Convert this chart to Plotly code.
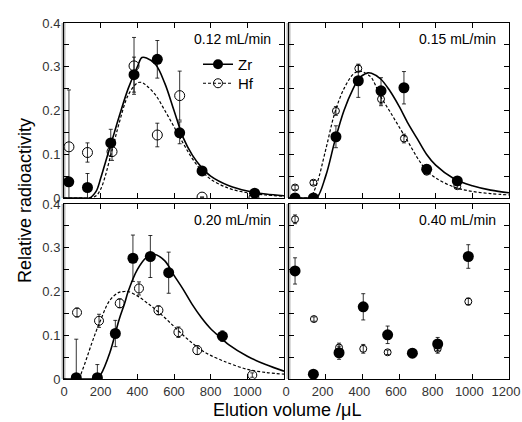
import plotly.graph_objects as go

# ---------------- data ----------------
flow_labels = ["0.12 mL/min", "0.15 mL/min", "0.20 mL/min", "0.40 mL/min"]

# 0.12 mL/min
p1_zr_x = [26, 128, 255, 382, 509, 631, 753, 1040]
p1_zr_y = [0.037, 0.024, 0.126, 0.282, 0.317, 0.149, 0.062, 0.011]
p1_zr_e = [0.0, 0.032, 0.031, 0.04, 0.043, 0.025, 0.01, 0.004]
p1_hf_x = [27, 128, 262, 382, 509, 631, 753, 1036]
p1_hf_y = [0.117, 0.104, 0.106, 0.302, 0.144, 0.234, 0.002, 0.0]
p1_hf_e = [0.13, 0.022, 0.02, 0.065, 0.027, 0.056, 0.0, 0.0]
p1_fit_x = [0, 100, 140, 175, 200, 225, 250, 275, 300, 350, 400, 425, 450, 500, 550, 600, 650, 700, 750, 800, 900, 1000, 1100, 1200]
p1_fit_zr = [0, 0, 0, 0.015, 0.045, 0.08, 0.115, 0.15, 0.185, 0.25, 0.30, 0.321, 0.32, 0.305, 0.262, 0.2, 0.138, 0.098, 0.07, 0.05, 0.028, 0.016, 0.009, 0.005]
p1_fit_hf = [0, 0, 0, 0.005, 0.02, 0.05, 0.09, 0.13, 0.17, 0.235, 0.263, 0.264, 0.257, 0.235, 0.2, 0.163, 0.125, 0.09, 0.063, 0.043, 0.022, 0.012, 0.007, 0.004]

# 0.15 mL/min
p2_zr_x = [33, 133, 256, 378, 502, 627, 751, 918]
p2_zr_y = [0.0, 0.0, 0.14, 0.268, 0.245, 0.252, 0.066, 0.039]
p2_zr_e = [0.0, 0.0, 0.025, 0.038, 0.03, 0.037, 0.01, 0.008]
p2_hf_x = [33, 133, 256, 378, 502, 627, 751, 918]
p2_hf_y = [0.024, 0.035, 0.199, 0.296, 0.226, 0.136, 0.06, 0.027]
p2_hf_e = [0.005, 0.005, 0.01, 0.008, 0.015, 0.01, 0.005, 0.005]
p2_fit_x = [0, 100, 115, 150, 200, 250, 300, 350, 380, 400, 430, 450, 500, 550, 600, 650, 700, 750, 800, 900, 1000, 1100, 1200]
p2_fit_zr = [0, 0, 0, 0, 0.05, 0.13, 0.2, 0.25, 0.272, 0.28, 0.286, 0.285, 0.272, 0.245, 0.21, 0.17, 0.135, 0.1, 0.075, 0.044, 0.028, 0.018, 0.012]
p2_fit_hf = [0, 0, 0, 0.03, 0.11, 0.195, 0.25, 0.283, 0.29, 0.289, 0.282, 0.275, 0.232, 0.198, 0.163, 0.128, 0.092, 0.063, 0.046, 0.025, 0.015, 0.01, 0.007]

# 0.20 mL/min
p3_zr_x = [67, 182, 280, 376, 471, 571, 864]
p3_zr_y = [0.003, 0.003, 0.104, 0.276, 0.28, 0.243, 0.098]
p3_zr_e = [0.088, 0.03, 0.03, 0.053, 0.048, 0.047, 0.012]
p3_hf_x = [71, 191, 304, 409, 515, 624, 727, 1027]
p3_hf_y = [0.152, 0.133, 0.173, 0.207, 0.157, 0.107, 0.066, 0.009]
p3_hf_e = [0.01, 0.015, 0.01, 0.015, 0.01, 0.012, 0.01, 0.005]
p3_fit_x = [0, 77, 100, 150, 176, 200, 250, 300, 330, 350, 400, 450, 490, 550, 600, 650, 700, 750, 800, 864, 900, 1000, 1100, 1200]
p3_fit_zr = [0, 0, 0, 0, 0, 0.01, 0.06, 0.135, 0.172, 0.2, 0.25, 0.278, 0.285, 0.27, 0.237, 0.205, 0.17, 0.14, 0.115, 0.091, 0.078, 0.052, 0.033, 0.018]
p3_fit_hf = [0, 0, 0.02, 0.08, 0.11, 0.135, 0.18, 0.198, 0.2, 0.2, 0.19, 0.175, 0.162, 0.14, 0.12, 0.1, 0.082, 0.066, 0.054, 0.042, 0.036, 0.022, 0.015, 0.011]

# 0.40 mL/min
p4_zr_x = [33, 133, 273, 405, 538, 673, 811, 978]
p4_zr_y = [0.247, 0.011, 0.06, 0.165, 0.101, 0.059, 0.08, 0.28]
p4_zr_e = [0.03, 0.0, 0.015, 0.03, 0.02, 0.01, 0.015, 0.027]
p4_hf_x = [33, 136, 273, 405, 538, 673, 811, 978]
p4_hf_y = [0.365, 0.137, 0.072, 0.069, 0.061, 0.061, 0.069, 0.177]
p4_hf_e = [0.01, 0.005, 0.01, 0.01, 0.005, 0.005, 0.01, 0.008]

x_ticks = [0, 200, 400, 600, 800, 1000, 1200]
y_ticks = [0, 0.1, 0.2, 0.3, 0.4]

# ---------------- figure ----------------
FONT = "Liberation Sans, Arial, sans-serif"
fig = go.Figure()

panels = [
    dict(zx=p1_zr_x, zy=p1_zr_y, ze=p1_zr_e, hx=p1_hf_x, hy=p1_hf_y, he=p1_hf_e,
         fx=p1_fit_x, fz=p1_fit_zr, fh=p1_fit_hf, hs=10, ax="x", ay="y"),
    dict(zx=p2_zr_x, zy=p2_zr_y, ze=p2_zr_e, hx=p2_hf_x, hy=p2_hf_y, he=p2_hf_e,
         fx=p2_fit_x, fz=p2_fit_zr, fh=p2_fit_hf, hs=7, ax="x2", ay="y2"),
    dict(zx=p3_zr_x, zy=p3_zr_y, ze=p3_zr_e, hx=p3_hf_x, hy=p3_hf_y, he=p3_hf_e,
         fx=p3_fit_x, fz=p3_fit_zr, fh=p3_fit_hf, hs=9, ax="x3", ay="y3"),
    dict(zx=p4_zr_x, zy=p4_zr_y, ze=p4_zr_e, hx=p4_hf_x, hy=p4_hf_y, he=p4_hf_e,
         fx=None, fz=None, fh=None, hs=7, ax="x4", ay="y4"),
]

for p in panels:
    if p["fx"] is not None:
        fig.add_trace(go.Scatter(x=p["fx"], y=p["fz"], mode="lines", line_shape="spline",
                                 line=dict(color="black", width=1.6), showlegend=False,
                                 xaxis=p["ax"], yaxis=p["ay"]))
        fig.add_trace(go.Scatter(x=p["fx"], y=p["fh"], mode="lines", line_shape="spline",
                                 line=dict(color="black", width=1.2, dash="3px,2px"), showlegend=False,
                                 xaxis=p["ax"], yaxis=p["ay"]))
    fig.add_trace(go.Scatter(x=p["hx"], y=p["hy"], mode="markers",
                             marker=dict(symbol="circle-open", size=p["hs"], color="black",
                                         line=dict(width=1, color="black")),
                             error_y=dict(type="data", array=p["he"], color="black", thickness=0.8, width=2),
                             showlegend=False, xaxis=p["ax"], yaxis=p["ay"]))
    fig.add_trace(go.Scatter(x=p["zx"], y=p["zy"], mode="markers",
                             marker=dict(symbol="circle", size=11, color="black"),
                             error_y=dict(type="data", array=p["ze"], color="black", thickness=0.8, width=2),
                             showlegend=False, xaxis=p["ax"], yaxis=p["ay"]))

# legend entries (one legend box each, to control spacing)
fig.add_trace(go.Scatter(x=[None], y=[None], mode="lines+markers", name="Zr", legend="legend",
                         marker=dict(symbol="circle", size=10, color="black"),
                         line=dict(color="black", width=1.5), xaxis="x", yaxis="y"))
fig.add_trace(go.Scatter(x=[None], y=[None], mode="lines+markers", name="Hf", legend="legend2",
                         marker=dict(symbol="circle-open", size=9, color="black"),
                         line=dict(color="black", width=1.2, dash="3px,2px"), xaxis="x", yaxis="y"))

W, H = 522, 422
L, R, T, B = 64, 13, 23, 43
pw, ph = W - L - R, H - T - B
xl = [0, (284 - L) / pw]
xr = [(289 - L) / pw, 1]
yt = [(379 - 198) / ph, 1]
yb = [0, (379 - 204) / ph]

def xaxis(dom, anchor, labels, shift=0):
    return dict(domain=dom, anchor=anchor, range=[0, 1200], tickmode="array", tickvals=x_ticks,
                ticktext=labels, ticks="inside", ticklen=5, tickwidth=1, tickcolor="black",
                showline=True, linecolor="black", linewidth=1, mirror="ticks",
                showgrid=False, zeroline=False, ticklabeloverflow="allow", automargin=False,
                ticklabelshift=shift,
                tickfont=dict(family=FONT, size=13, color="#333"))

def yaxis(dom, anchor, labels):
    return dict(domain=dom, anchor=anchor, range=[0, 0.4], tickmode="array", tickvals=y_ticks,
                ticktext=labels, ticks="inside", ticklen=5, tickwidth=1, tickcolor="black",
                minor=dict(dtick=0.05, tick0=0, ticks="inside", ticklen=5, tickwidth=1, tickcolor="black"),
                showline=True, linecolor="black", linewidth=1, mirror="ticks",
                showgrid=False, zeroline=False, ticklabeloverflow="allow", automargin=False,
                tickfont=dict(family=FONT, size=13, color="#333"))

empty_x = [""] * len(x_ticks)
empty_y = [""] * len(y_ticks)
xlab_left = [str(v) for v in x_ticks[:-1]] + [""]
xlab_right = [str(v) for v in x_ticks]
ylab = ["0", "0.1", "0.2", "0.3", "0.4"]

leg_common = dict(x=(198 - L) / pw, xanchor="left", yanchor="top",
                  bgcolor="rgba(0,0,0,0)", font=dict(family=FONT, size=15, color="black"),
                  itemwidth=30)

fig.update_layout(
    width=W, height=H, margin=dict(l=L, r=R, t=T, b=B, autoexpand=False),
    paper_bgcolor="white", plot_bgcolor="white",
    font=dict(family=FONT, color="black"),
    xaxis=xaxis(xl, "y", empty_x), yaxis=yaxis(yt, "x", ylab),
    xaxis2=xaxis(xr, "y2", empty_x), yaxis2=yaxis(yt, "x2", empty_y),
    xaxis3=xaxis(xl, "y3", xlab_left), yaxis3=yaxis(yb, "x3", ylab),
    xaxis4=xaxis(xr, "y4", xlab_right, shift=-3), yaxis4=yaxis(yb, "x4", empty_y),
    legend=dict(y=1 - (48 - T) / ph, **leg_common),
    legend2=dict(y=1 - (67 - T) / ph, **leg_common),
    showlegend=True,
)

# grey halo on the left frame edge of each panel (as in the reference rendering)
for xd, yd in [(xl, yt), (xr, yt), (xl, yb), (xr, yb)]:
    fig.add_shape(type="line", xref="paper", yref="paper", x0=xd[0] - 0.5 / pw, x1=xd[0] - 0.5 / pw,
                  y0=yd[0], y1=yd[1], line=dict(color="#b8b8b8", width=4), layer="below")

# panel labels
lab_pos = [("x domain", "y domain"), ("x2 domain", "y2 domain"),
           ("x3 domain", "y3 domain"), ("x4 domain", "y4 domain")]
for (xr_, yr_), txt in zip(lab_pos, flow_labels):
    fig.add_annotation(text=txt, xref=xr_, yref=yr_, x=0.95, y=0.91, xanchor="right",
                       yanchor="middle", showarrow=False,
                       font=dict(family=FONT, size=14, color="black"))

fig.add_annotation(text="Relative radioactivity", xref="paper", yref="paper",
                   x=-(L - 25) / pw, y=0.5, textangle=-90, showarrow=False,
                   xanchor="center", yanchor="middle",
                   font=dict(family=FONT, size=18, color="black"))
fig.add_annotation(text="Elution volume /μL", xref="paper", yref="paper",
                   x=(287 - L) / pw, y=-(410 - 379) / ph, showarrow=False,
                   xanchor="center", yanchor="middle",
                   font=dict(family=FONT, size=18, color="black"))

fig.write_html("out.html", config={"displayModeBar": False},
               post_script="document.body.style.margin='0px';document.body.style.padding='0px';document.body.style.overflow='hidden';")
